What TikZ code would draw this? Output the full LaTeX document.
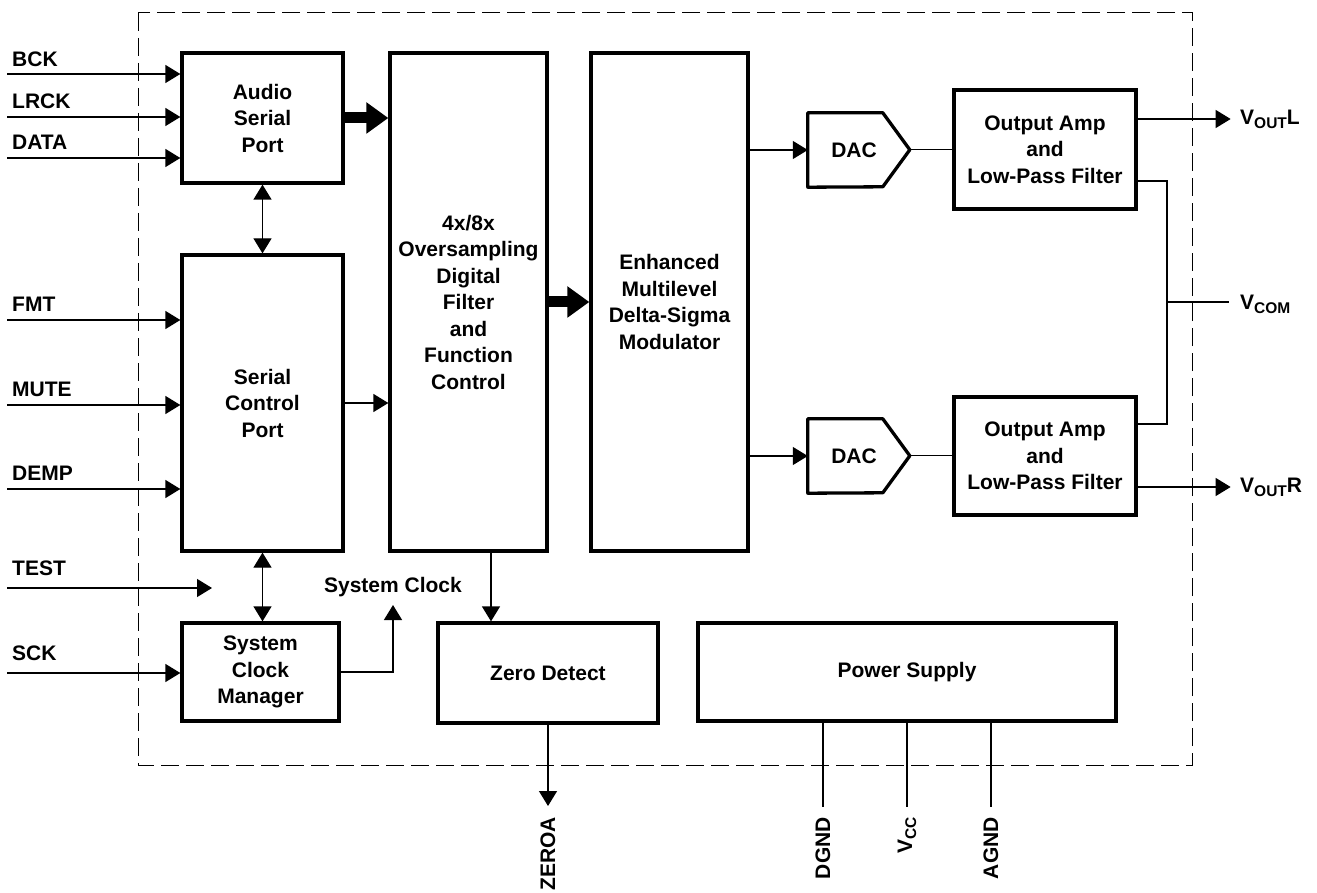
\documentclass[tikz,border=0pt]{standalone}
\usepackage{fontspec}
\setmainfont{Liberation Sans}
\usetikzlibrary{arrows.meta}

\newcommand{\pinsub}[1]{\raisebox{-4pt}{\fontsize{15.5}{15.5}\selectfont #1}}

\tikzset{
  blk/.style={draw, line width=3.3pt, align=center, inner sep=0pt},
  sig/.style={line width=1.3pt},
  bus/.style={line width=11pt, -{Triangle[length=22pt,width=30pt]}},
  pinlbl/.style={anchor=west, inner sep=0pt},
  pinrot/.style={anchor=east, rotate=90, inner sep=0pt},
  >={Triangle[length=15pt,width=18pt]}
}

\begin{document}
\begin{tikzpicture}[x=1pt, y=-1pt, font=\fontsize{21}{26.5}\selectfont\bfseries]
                \useasboundingbox (0,0) rectangle (1317,893);
                \draw [line width=1pt, dash pattern=on 18pt off 7pt] (138,13) rectangle (1192,765);
                % blocks
                \node [blk, minimum width=161, minimum height=130] (asp) at (262.5,118) {Audio\\Serial\\Port};
                \node [blk, minimum width=161, minimum height=296] (scp) at (262.5,403) {Serial\\Control\\Port};
                \node [blk, minimum width=157, minimum height=98] (scm) at (260.5,672) {System\\Clock\\Manager};
                \node [blk, minimum width=157, minimum height=498] (dfl) at (468.5,302) {4x/8x\\Oversampling\\Digital\\Filter\\and\\Function\\Control};
                \node [blk, minimum width=157, minimum height=498] (dsm) at (669.5,302) {Enhanced\\Multilevel\\Delta-Sigma\\Modulator};
                \node [blk, minimum width=182, minimum height=119] (ampl) at (1045,149.5) {Output Amp\\and\\Low-Pass Filter};
                \node [blk, minimum width=182, minimum height=118] (ampr) at (1045,456) {Output Amp\\and\\Low-Pass Filter};
                \node [blk, minimum width=220, minimum height=100] (zdet) at (548,673) {Zero Detect};
                \node [blk, minimum width=418, minimum height=98] (psup) at (907,672) {Power Supply};
                % DACs
                \node [inner sep=0pt, minimum width=92, minimum height=74] (dacl) at (854,150) {DAC};
                \draw [line width=3.3pt, line join=round] (dacl.north west) -- ++(75,0) -- ++(27,37) coordinate (dacltip) -- ++(-27,37) -- (dacl.south west) -- cycle;
                \node [inner sep=0pt, minimum width=92, minimum height=74] (dacr) at (854,456) {DAC};
                \draw [line width=3.3pt, line join=round] (dacr.north west) -- ++(75,0) -- ++(27,37) coordinate (dacrtip) -- ++(-27,37) -- (dacr.south west) -- cycle;
                % inputs
                \coordinate (bck) at (7,74);
                \coordinate (lrck) at (7,117);
                \coordinate (data) at (7,158);
                \coordinate (fmt) at (7,320);
                \coordinate (mute) at (7,405);
                \coordinate (demp) at (7,489);
                \coordinate (test) at (7,588);
                \coordinate (testend) at (212,588);
                \coordinate (sck) at (7,673);
                \draw [sig,->] (bck) -- (bck -| asp.west);
                \draw [sig,->] (lrck) -- (lrck -| asp.west);
                \draw [sig,->] (data) -- (data -| asp.west);
                \draw [sig,->] (fmt) -- (fmt -| scp.west);
                \draw [sig,->] (mute) -- (mute -| scp.west);
                \draw [sig,->] (demp) -- (demp -| scp.west);
                \draw [sig,->] (test) -- (testend);
                \draw [sig,->] (sck) -- (sck -| scm.west);
                \node [pinlbl] (lblbck) at (12,59) {BCK};
                \node [pinlbl] (lbllrck) at (12,101) {LRCK};
                \node [pinlbl] (lbldata) at (12,142) {DATA};
                \node [pinlbl] (lblfmt) at (12,304) {FMT};
                \node [pinlbl] (lblmute) at (12,389) {MUTE};
                \node [pinlbl] (lbldemp) at (12,473) {DEMP};
                \node [pinlbl] (lbltest) at (12,568) {TEST};
                \node [pinlbl] (lblsck) at (12,653) {SCK};
                % internal links
                \draw [sig,<->] (asp.south) -- (scp.north);
                \draw [sig,<->] (scp.south) -- (scp.south |- scm.north);
                \draw [bus] (asp.east) -- (asp.east -| dfl.west);
                \draw [bus] (dfl.east) -- (dsm.west);
                \draw [sig,->] (scp.east) -- (scp.east -| dfl.west);
                \coordinate (sclk) at (393,605);
                \node (lblsclk) at (393,587) {System Clock};
                \draw [sig,->] (scm.east) -| (sclk);
                \draw [sig,->] ([xshift=22.5pt]dfl.south) -- ([xshift=22.5pt]dfl.south |- zdet.north);
                \draw [sig,->] (dsm.east |- dacl.west) -- (dacl.west);
                \draw [sig,->] (dsm.east |- dacr.west) -- (dacr.west);
                \draw [sig] (dacltip) -- (dacltip -| ampl.west);
                \draw [sig] (dacrtip) -- (dacrtip -| ampr.west);
                % outputs
                \draw [sig,->] ([yshift=30.5pt]ampl.east) -- ++(93,0) coordinate (voutl);
                \draw [sig,->] ([yshift=-31pt]ampr.east) -- ++(93,0) coordinate (voutr);
                \coordinate (vcomj) at (1167,302);
                \draw [sig] ([yshift=-31.5pt]ampl.east) -| (vcomj) |- ([yshift=32pt]ampr.east);
                \draw [sig] (vcomj) -- (1229,302) coordinate (vcom);
                \node [pinlbl] (lblvoutl) at (1240,119) {V\pinsub{OUT}L};
                \node [pinlbl] (lblvcom) at (1240,304) {V\pinsub{COM}};
                \node [pinlbl] (lblvoutr) at (1240,487) {V\pinsub{OUT}R};
                % bottom pins
                \draw [sig,->] (zdet.south) -- (548,806) coordinate (zeroa);
                \draw [sig] ([xshift=-84pt]psup.south) -- ++(0,84) coordinate (dgnd);
                \draw [sig] (psup.south) -- ++(0,84) coordinate (vcc);
                \draw [sig] ([xshift=84pt]psup.south) -- ++(0,84) coordinate (agnd);
                \node [pinrot] (lblzeroa) at (548,817) {ZEROA};
                \node [pinrot] (lbldgnd) at (823,817) {DGND};
                \node [pinrot] (lblvcc) at (907,817) {V\pinsub{CC}};
                \node [pinrot] (lblagnd) at (991,817) {AGND};
\end{tikzpicture}
\end{document}
